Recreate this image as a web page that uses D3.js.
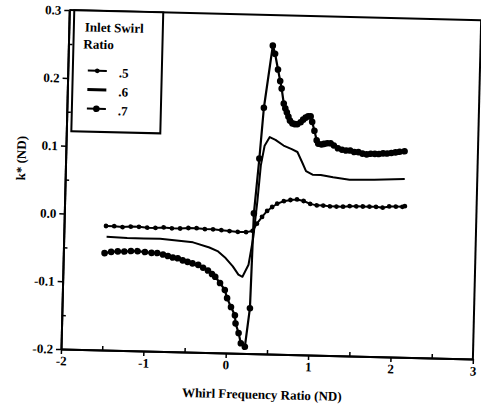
<!DOCTYPE html>
<html>
<head>
<meta charset="utf-8">
<script src="https://cdn.jsdelivr.net/npm/d3@7"></script>
<style>
  body { margin: 0; background: #fff; }
  text { font-family: 'Liberation Serif', 'DejaVu Serif', serif; font-weight: bold; fill: #000; }
</style>
</head>
<body>
<script>
const xTicks = [-2, -1, 0, 1, 2, 3]
const yTicks = [-0.2, -0.1, 0.0, 0.1, 0.2, 0.3]
const legendLabels = ['.5', '.6', '.7']

const s5x = [-1.49, -1.39, -1.29, -1.19, -1.09, -0.99, -0.89, -0.79, -0.69, -0.59, -0.49, -0.39, -0.29, -0.19, -0.09, 0.01, 0.11, 0.21, 0.29, 0.34, 0.40, 0.46, 0.52, 0.58, 0.66, 0.74, 0.82, 0.90, 0.98, 1.06, 1.14, 1.22, 1.30, 1.38, 1.46, 1.54, 1.62, 1.70, 1.78, 1.86, 1.94, 2.02, 2.10, 2.13]
const s5y = [-0.017, -0.017, -0.018, -0.017, -0.017, -0.018, -0.018, -0.017, -0.018, -0.018, -0.017, -0.017, -0.018, -0.018, -0.019, -0.020, -0.021, -0.021, -0.019, -0.008, 0.002, 0.011, 0.017, 0.022, 0.026, 0.028, 0.029, 0.027, 0.023, 0.021, 0.021, 0.020, 0.020, 0.020, 0.021, 0.021, 0.021, 0.021, 0.021, 0.020, 0.022, 0.022, 0.022, 0.023]

const s6x = [-1.48, -1.23, -1.03, -0.83, -0.63, -0.43, -0.23, -0.13, -0.03, 0.06, 0.13, 0.18, 0.25, 0.30, 0.34, 0.37, 0.41, 0.47, 0.54, 0.64, 0.74, 0.81, 0.87, 0.92, 1.00, 1.10, 1.25, 1.45, 1.75, 2.12]
const s6y = [-0.033, -0.034, -0.034, -0.034, -0.036, -0.038, -0.045, -0.050, -0.060, -0.072, -0.084, -0.087, -0.069, -0.028, 0.027, 0.078, 0.107, 0.120, 0.116, 0.108, 0.103, 0.099, 0.084, 0.071, 0.066, 0.066, 0.063, 0.060, 0.061, 0.063]

const s7x = [-1.50, -1.42, -1.34, -1.26, -1.18, -1.10, -1.01, -0.93, -0.86, -0.79, -0.73, -0.67, -0.61, -0.55, -0.49, -0.43, -0.36, -0.30, -0.24, -0.19, -0.15, -0.09, -0.03, 0.00, 0.05, 0.10, 0.11, 0.15, 0.18, 0.23, 0.28, 0.30, 0.35, 0.39, 0.48, 0.51, 0.55, 0.58, 0.60, 0.63, 0.65, 0.67, 0.69, 0.71, 0.74, 0.77, 0.80, 0.84, 0.87, 0.90, 0.93, 0.96, 0.98, 1.01, 1.04, 1.06, 1.10, 1.13, 1.17, 1.21, 1.25, 1.30, 1.35, 1.40, 1.45, 1.50, 1.55, 1.60, 1.65, 1.70, 1.75, 1.80, 1.85, 1.90, 1.95, 2.00, 2.05, 2.11]
const s7y = [-0.057, -0.055, -0.054, -0.054, -0.053, -0.053, -0.054, -0.055, -0.055, -0.057, -0.059, -0.061, -0.062, -0.065, -0.067, -0.069, -0.071, -0.075, -0.079, -0.084, -0.088, -0.097, -0.107, -0.119, -0.132, -0.144, -0.156, -0.170, -0.185, -0.190, -0.133, 0.007, 0.088, 0.163, 0.255, 0.243, 0.220, 0.203, 0.192, 0.170, 0.163, 0.157, 0.151, 0.145, 0.141, 0.140, 0.140, 0.143, 0.147, 0.150, 0.152, 0.152, 0.144, 0.131, 0.117, 0.112, 0.111, 0.112, 0.113, 0.113, 0.110, 0.106, 0.104, 0.103, 0.103, 0.101, 0.101, 0.099, 0.098, 0.099, 0.099, 0.099, 0.100, 0.100, 0.101, 0.102, 0.103, 0.104]

const width = 481
const height = 404
const margin = { left: 61, right: 8, top: 10, bottom: 55 }
const tilt = 1.4

const svg = d3.select('body').append('svg')
  .attr('width', width)
  .attr('height', height)

const x = d3.scaleLinear().domain([-2, 3]).range([margin.left, width - margin.right])
const y = d3.scaleLinear().domain([-0.2, 0.3]).range([height - margin.bottom, margin.top])

const g = svg.append('g')
  .attr('transform', `rotate(${tilt}, ${x(-2)}, ${y(-0.2)})`)

const fmt = d => d3.format('.1f')(d).replace('−', '-')

// frame
g.append('line')
  .attr('x1', x(-2)).attr('x2', x(3) + 10)
  .attr('y1', y(0.3)).attr('y2', y(0.3))
  .attr('stroke', '#000').attr('stroke-width', 2)
g.append('line')
  .attr('x1', x(3)).attr('x2', x(3))
  .attr('y1', y(0.3)).attr('y2', y(-0.2))
  .attr('stroke', '#000').attr('stroke-width', 2)

const xAxis = g.append('g')
  .attr('transform', `translate(0, ${y(-0.2)})`)
  .call(d3.axisBottom(x).tickValues(xTicks).tickSizeInner(5).tickSizeOuter(0)
    .tickPadding(1).tickFormat(d => String(d)))
g.append('g')
  .attr('transform', `translate(0, ${y(-0.2)})`)
  .call(d3.axisBottom(x).tickValues(xTicks.slice(0, -1).map(d => d + 0.5)).tickSizeInner(-4).tickSizeOuter(0).tickFormat(''))

const yAxis = g.append('g')
  .attr('transform', `translate(${x(-2)}, 0)`)
  .call(d3.axisLeft(y).tickValues(yTicks).tickSizeInner(5).tickSizeOuter(0)
    .tickPadding(3).tickFormat(fmt))
g.append('g')
  .attr('transform', `translate(${x(-2)}, 0)`)
  .call(d3.axisLeft(y).tickValues(yTicks.slice(0, -1).map(d => d + 0.05)).tickSizeInner(-4).tickSizeOuter(0).tickFormat(''))

g.selectAll('.domain').attr('stroke-width', 2)
g.selectAll('.tick line').attr('stroke-width', 1.5)
g.selectAll('.tick text')
  .style('font-family', "'Liberation Serif', serif")
  .style('font-weight', 'bold')
  .style('font-size', '13px')
xAxis.selectAll('.tick text').attr('dy', '0.8em')

g.append('text')
  .attr('x', x(0.45))
  .attr('y', y(-0.2) + 45)
  .attr('text-anchor', 'middle')
  .style('font-size', '13px')
  .text('Whirl Frequency Ratio (ND)')

g.append('text')
  .attr('transform', `translate(${x(-2) - 40}, ${y(0.08)}) rotate(-90)`)
  .attr('text-anchor', 'middle')
  .style('font-size', '13px')
  .text('k* (ND)')

// series
const line = d3.line().x(d => x(d[0])).y(d => y(d[1]))
const series = [
  { pts: d3.zip(s5x, s5y), r: 2.4, w: 2 },
  { pts: d3.zip(s6x, s6y), r: 0, w: 2 },
  { pts: d3.zip(s7x, s7y), r: 3.3, w: 2.2 }
]

series.forEach(s => {
  g.append('path')
    .attr('d', line(s.pts))
    .attr('fill', 'none')
    .attr('stroke', '#000')
    .attr('stroke-width', s.w)
    .attr('stroke-linejoin', 'round')
  if (s.r > 0) {
    g.selectAll(null).data(s.pts).enter().append('circle')
      .attr('cx', d => x(d[0]))
      .attr('cy', d => y(d[1]))
      .attr('r', s.r)
      .attr('fill', '#000')
  }
})

// legend
const lg = g.append('g').attr('transform', `translate(${x(-2) + 5}, ${y(0.3)})`)
lg.append('rect')
  .attr('width', 89).attr('height', 121)
  .attr('fill', '#fff').attr('stroke', '#000').attr('stroke-width', 2)
lg.append('text').attr('x', 11).attr('y', 21).style('font-size', '13px').text('Inlet Swirl')
lg.append('text').attr('x', 10).attr('y', 38).style('font-size', '13px').text('Ratio')

legendLabels.forEach((lab, i) => {
  const row = lg.append('g').attr('transform', `translate(0, ${60 + i * 19})`)
  row.append('line')
    .attr('x1', 15).attr('x2', 34)
    .attr('stroke', '#000').attr('stroke-width', i === 1 ? 3 : 2)
  if (i !== 1) {
    row.append('circle').attr('cx', 24.5).attr('r', i === 0 ? 2.4 : 3.3).attr('fill', '#000')
  }
  row.append('text').attr('x', 46).attr('y', 6).style('font-size', '13px').text(lab)
})
</script>
</body>
</html>
